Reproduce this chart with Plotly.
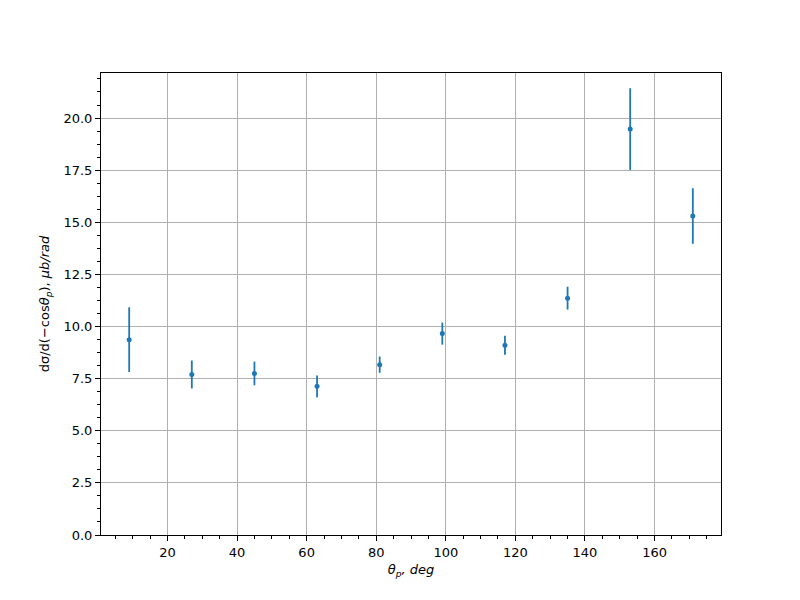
import plotly.graph_objects as go

theta = [9, 27, 45, 63, 81, 99, 117, 135, 153, 171]
xsec = [9.37, 7.70, 7.75, 7.13, 8.17, 9.66, 9.10, 11.36, 19.47, 15.30]
err = [1.55, 0.67, 0.57, 0.52, 0.39, 0.53, 0.46, 0.55, 1.96, 1.33]

x_ticks = [20, 40, 60, 80, 100, 120, 140, 160]
y_ticks = [0.0, 2.5, 5.0, 7.5, 10.0, 12.5, 15.0, 17.5, 20.0]

blue = "#1f77b4"
font = "DejaVu Sans, sans-serif"

fig = go.Figure()
fig.add_trace(go.Scatter(
    x=theta, y=xsec, mode="markers",
    marker=dict(color=blue, size=5),
    error_y=dict(type="data", array=err, visible=True, color=blue, thickness=1.8, width=0),
    showlegend=False,
))

axis_common = dict(
    showline=True, linecolor="black", linewidth=1, mirror=True,
    ticks="outside", ticklen=5, tickwidth=1, tickcolor="black",
    showgrid=True, gridcolor="#b0b0b0", gridwidth=0.8,
    zeroline=False,
    tickfont=dict(family=font, size=13, color="black"),
)

fig.update_layout(
    width=800, height=600,
    margin=dict(l=93, r=87, t=65, b=73),
    plot_bgcolor="white", paper_bgcolor="white",
    font=dict(family=font, size=13, color="black"),
    xaxis=dict(
        range=[0.9, 179.1], tickvals=x_ticks,
        ticktext=[str(v) for v in x_ticks],
        minor=dict(dtick=5, tick0=0, ticks="outside", ticklen=3, tickcolor="black", showgrid=False),
        title=dict(text="<i>θ<sub>p</sub>, deg</i>", font=dict(family=font, size=13), standoff=6),
        **axis_common,
    ),
    yaxis=dict(
        range=[0, 22.16], tickvals=y_ticks,
        ticktext=[f"{v:.1f}" for v in y_ticks],
        minor=dict(dtick=0.625, tick0=0, ticks="outside", ticklen=3, tickcolor="black", showgrid=False),
        title=dict(text="dσ/d(−cos<i>θ<sub>p</sub></i>), <i>μb/rad</i>", font=dict(family=font, size=13), standoff=10),
        **axis_common,
    ),
)

fig.write_html("out.html")
